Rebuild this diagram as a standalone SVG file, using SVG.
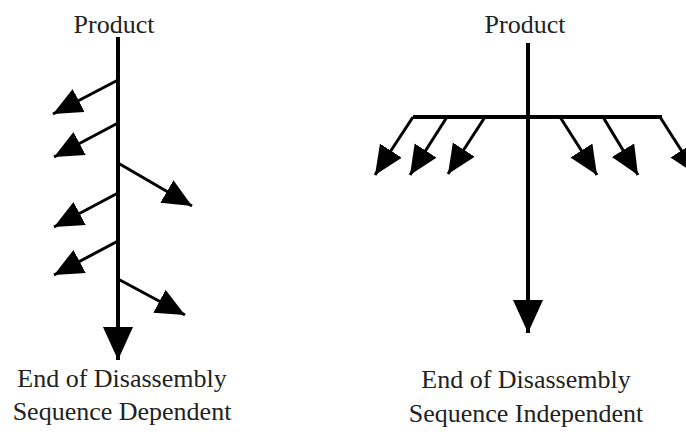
<svg xmlns="http://www.w3.org/2000/svg" width="686" height="435" viewBox="0 0 686 435">
  <style>
    .lbl { font-family: "Liberation Serif", "Times New Roman", serif; font-size: 26px; fill: #222; text-anchor: middle; }
    .trunk { stroke: #000; stroke-width: 4; fill: none; }
    .branch { stroke: #000; stroke-width: 3; fill: none; }
  </style>
  <defs>
    <marker id="bigHead" markerUnits="userSpaceOnUse" markerWidth="34" markerHeight="32" refX="33" refY="15" orient="auto">
      <path d="M0,0 L33,15 L0,30 Z" fill="#000"/>
    </marker>
    <marker id="smallHead" markerUnits="userSpaceOnUse" markerWidth="30" markerHeight="28" refX="29" refY="13" orient="auto">
      <path d="M0,0 L29,13 L0,26 Z" fill="#000"/>
    </marker>
  </defs>
  <rect width="686" height="435" fill="#fff"/>

  <!-- sequence-dependent tree -->
  <g id="dep-top"><text class="lbl" x="114" y="33">Product</text></g>
  <g id="dep-bottom">
    <text class="lbl" x="122" y="387">End of Disassembly</text>
    <text class="lbl" x="122" y="420">Sequence Dependent</text>
  </g>

  <!-- sequence-independent tree -->
  <g id="ind-top"><text class="lbl" x="525" y="33">Product</text></g>
  <g id="ind-bottom">
    <text class="lbl" x="526" y="388">End of Disassembly</text>
    <text class="lbl" x="526" y="422">Sequence Independent</text>
  </g>

  <g id="connectors">
    <!-- dependent: trunk with staggered branches -->
    <line class="trunk" x1="118" y1="37" x2="118" y2="360" marker-end="url(#bigHead)"/>
    <line class="branch" x1="118" y1="80" x2="53" y2="114" marker-end="url(#smallHead)"/>
    <line class="branch" x1="118" y1="123" x2="54" y2="157" marker-end="url(#smallHead)"/>
    <line class="branch" x1="118" y1="163" x2="192" y2="206" marker-end="url(#smallHead)"/>
    <line class="branch" x1="118" y1="193" x2="54" y2="227" marker-end="url(#smallHead)"/>
    <line class="branch" x1="118" y1="241" x2="54" y2="275" marker-end="url(#smallHead)"/>
    <line class="branch" x1="118" y1="279" x2="185" y2="315" marker-end="url(#smallHead)"/>

    <!-- independent: trunk with a single cross bar -->
    <line class="trunk" x1="528" y1="43" x2="528" y2="333" marker-end="url(#bigHead)"/>
    <line class="trunk" x1="413" y1="117" x2="662" y2="117"/>
    <line class="branch" x1="413" y1="117" x2="375" y2="175" marker-end="url(#smallHead)"/>
    <line class="branch" x1="447" y1="117" x2="410" y2="175" marker-end="url(#smallHead)"/>
    <line class="branch" x1="485" y1="117" x2="448" y2="174" marker-end="url(#smallHead)"/>
    <line class="branch" x1="560" y1="117" x2="597" y2="175" marker-end="url(#smallHead)"/>
    <line class="branch" x1="603" y1="117" x2="638" y2="175" marker-end="url(#smallHead)"/>
    <line class="branch" x1="660" y1="117" x2="697" y2="175" marker-end="url(#smallHead)"/>
  </g>
</svg>
